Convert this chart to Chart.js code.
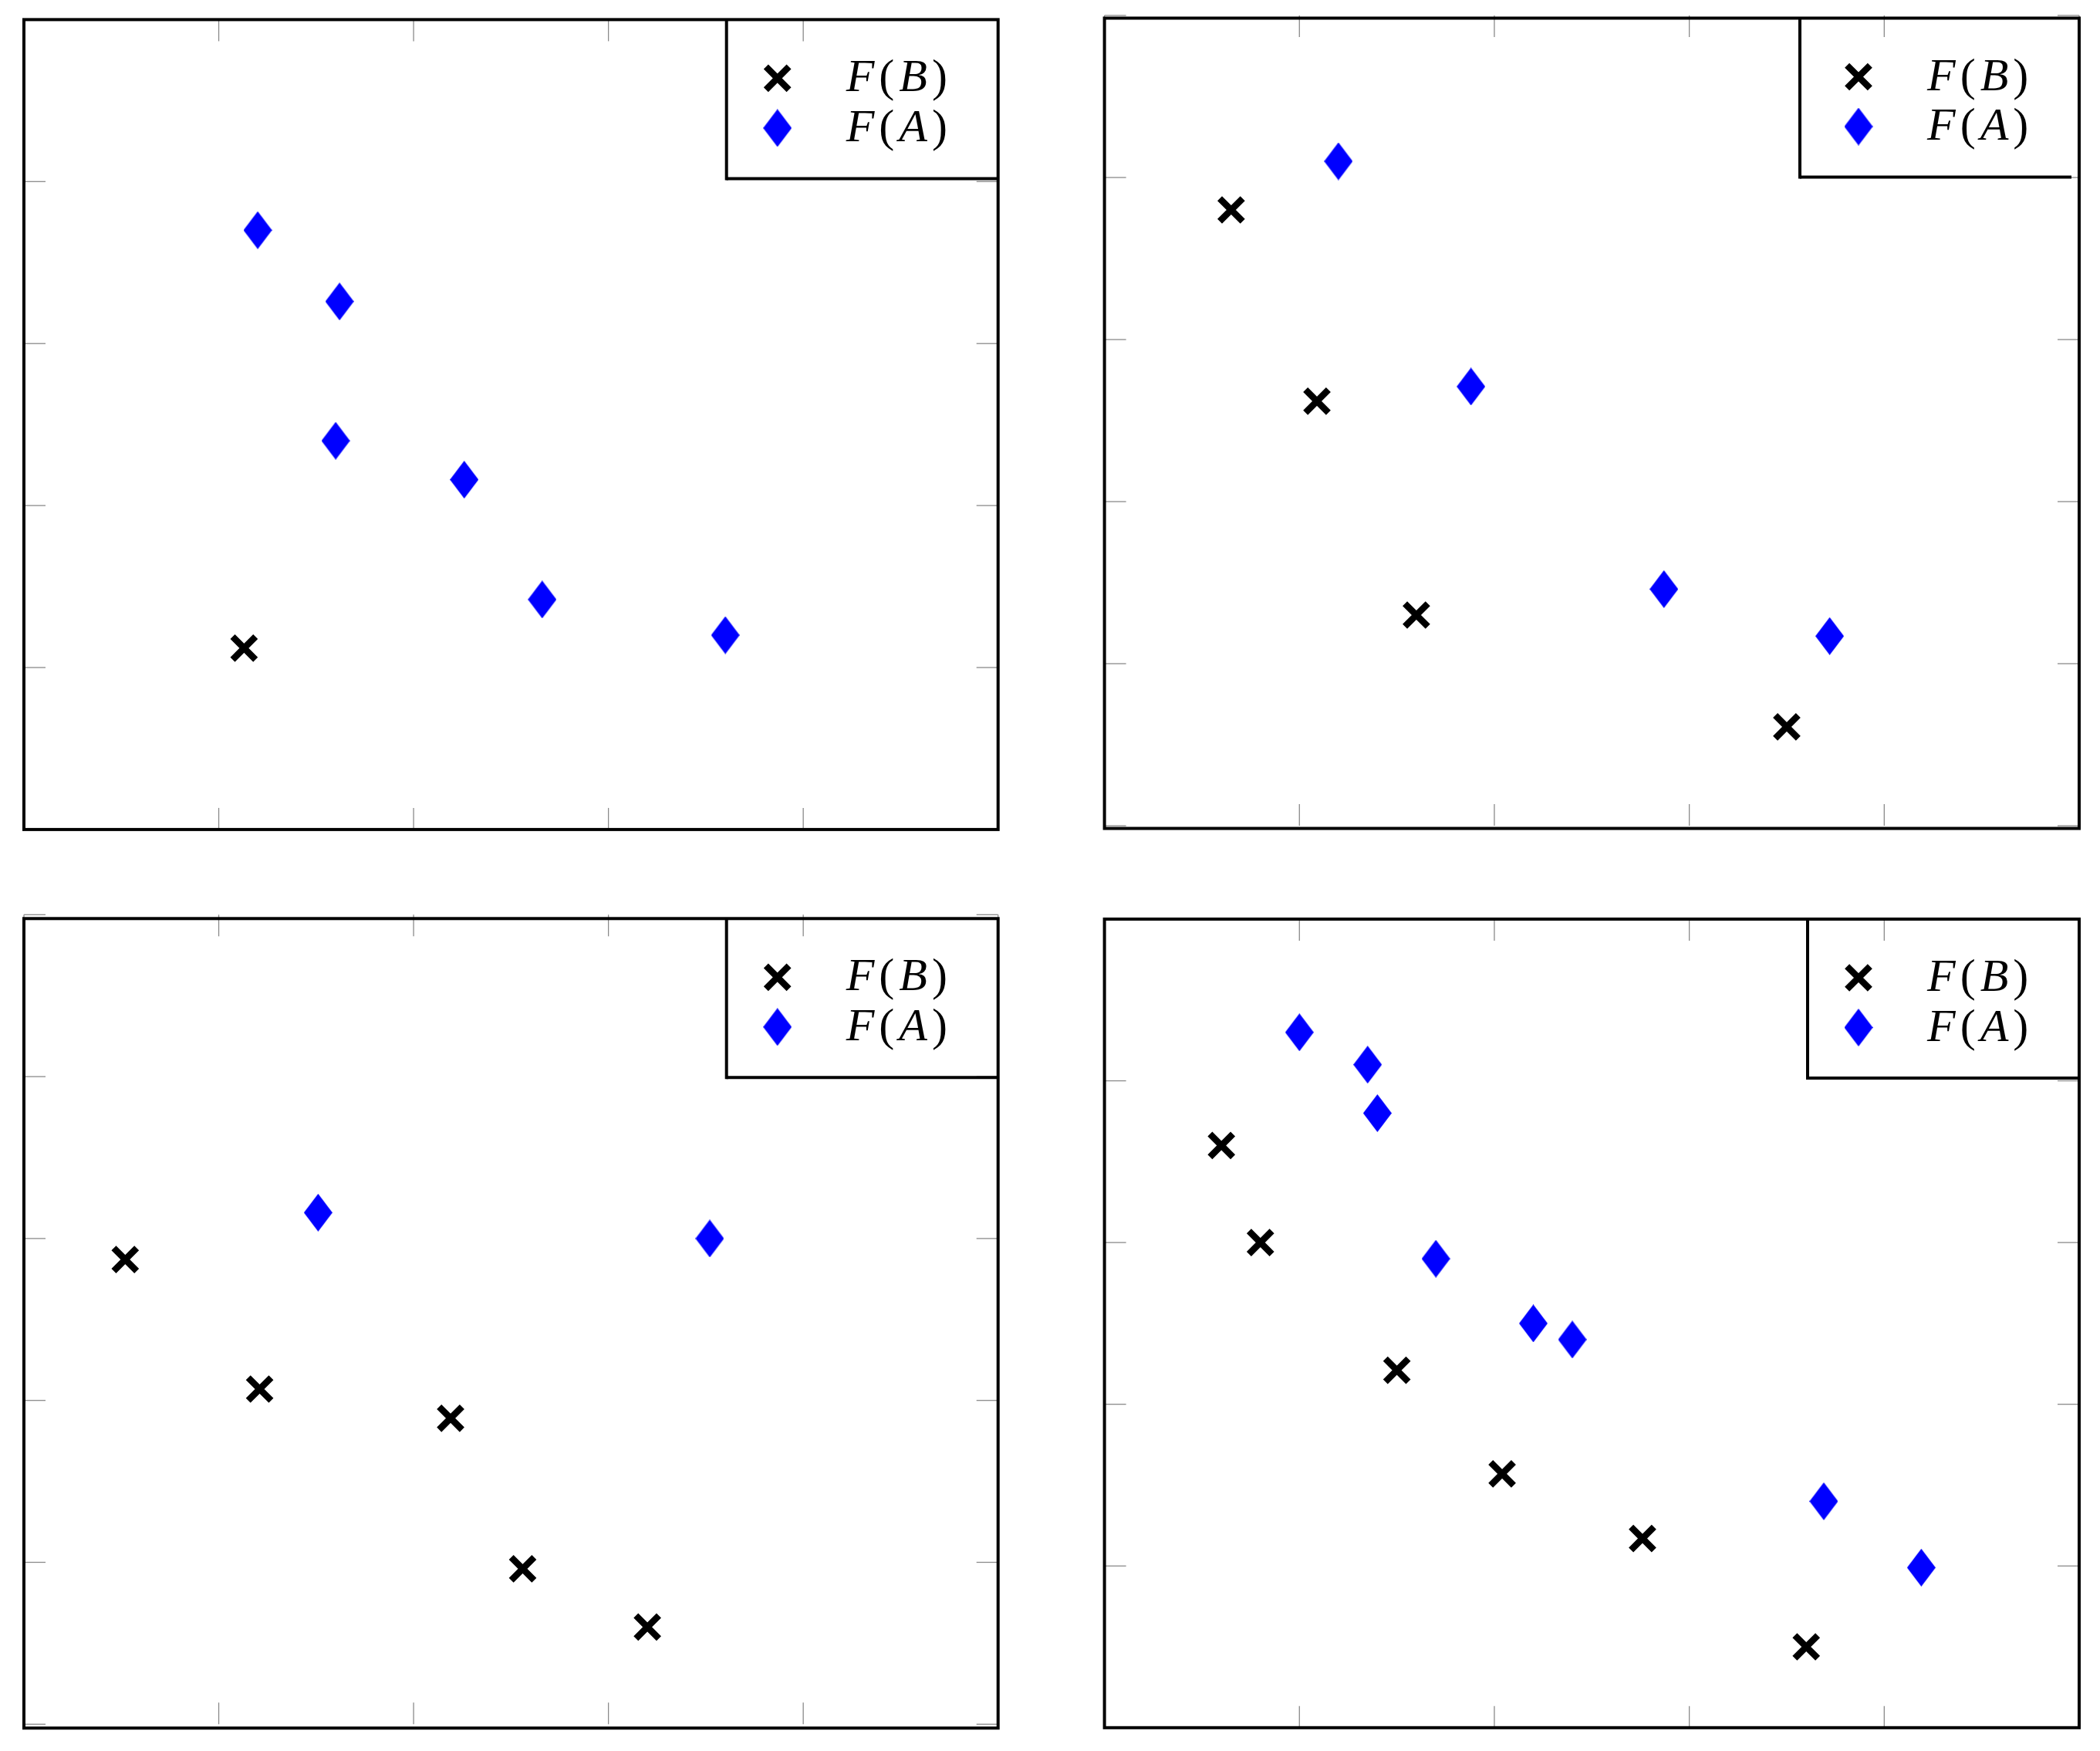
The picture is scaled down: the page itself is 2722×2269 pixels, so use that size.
<!DOCTYPE html>
<html>
<head>
<meta charset="utf-8">
<title>F(A) / F(B) scatter panels</title>
<script src="https://cdn.jsdelivr.net/npm/chart.js@4/dist/chart.umd.min.js"></script>
<style>
    html, body { margin: 0; padding: 0; background: #fff; }
    #page { position: relative; width: 2722px; height: 2269px; overflow: hidden; background: #fff; }
    #page canvas { position: absolute; }
</style>
</head>
<body>
<div id="page"></div>
<script>
// series names and tick values (same for all four panels)
const seriesLabels = ['F(B)', 'F(A)'];
const xTicks = [0, 1, 2, 3, 4, 5];
const yTicks = [0, 1, 2, 3, 4, 5];

// panel 1 (top left)
const p1BX = [1.13];
const p1BY = [1.12];
const p1AX = [1.20, 1.62, 1.60, 2.26, 2.66, 3.60];
const p1AY = [3.70, 3.26, 2.40, 2.16, 1.42, 1.20];

// panel 2 (top right)
const p2BX = [0.65, 1.09, 1.60, 3.50];
const p2BY = [3.80, 2.62, 1.30, 0.61];
const p2AX = [1.20, 1.88, 2.87, 3.72];
const p2AY = [4.10, 2.71, 1.46, 1.17];

// panel 3 (bottom left)
const p3BX = [0.52, 1.21, 2.19, 2.56, 3.20];
const p3BY = [2.87, 2.07, 1.89, 0.96, 0.60];
const p3AX = [1.51, 3.52];
const p3AY = [3.16, 3.00];

// panel 4 (bottom right)
const p4BX = [0.60, 0.80, 1.50, 2.04, 2.76, 3.60];
const p4BY = [3.60, 3.00, 2.21, 1.57, 1.17, 0.50];
const p4AX = [1.00, 1.35, 1.40, 1.70, 2.20, 2.40, 3.69, 4.19];
const p4AY = [4.30, 4.10, 3.80, 2.90, 2.50, 2.40, 1.40, 0.99];

// where each plot area sits on the page
const panelBoxes = [
    { left: 31, top: 25.4, right: 1293.7, bottom: 1074.9, shift: 0, legendInset: 0 },
    { left: 1431.6, top: 20, right: 2695, bottom: 1070, shift: 3.5, legendInset: 10 },
    { left: 31, top: 1185.3, right: 1293.7, bottom: 2234.3, shift: 5, legendInset: 0 },
    { left: 1431.6, top: 1191, right: 2695, bottom: 2238.8, shift: 0, legendInset: 0 }
];

const panelData = [
    [p1BX, p1BY, p1AX, p1AY],
    [p2BX, p2BY, p2AX, p2AY],
    [p3BX, p3BY, p3AX, p3AY],
    [p4BX, p4BY, p4AX, p4AY]
];

function toPoints(xs, ys) {
    return xs.map((x, i) => ({ x: x, y: ys[i] }));
}

// tall diamond marker, like pgfplots "diamond*"
function makeDiamond(w, h, color) {
    const c = document.createElement('canvas');
    c.width = w;
    c.height = h;
    const g = c.getContext('2d');
    g.fillStyle = color;
    g.beginPath();
    g.moveTo(w / 2, 0);
    g.lineTo(w, h / 2);
    g.lineTo(w / 2, h);
    g.lineTo(0, h / 2);
    g.closePath();
    g.fill();
    return c;
}
const diamondMark = makeDiamond(37, 49, '#0000ff');

function strokeLine(ctx, x1, y1, x2, y2) {
    ctx.beginPath();
    ctx.moveTo(x1, y1);
    ctx.lineTo(x2, y2);
    ctx.stroke();
}

// letters italic, brackets upright
function drawMathLabel(ctx, text, x, y) {
    ctx.fillStyle = '#000';
    ctx.textAlign = 'left';
    ctx.textBaseline = 'alphabetic';
    for (const ch of text) {
        ctx.font = (/[A-Za-z]/.test(ch) ? 'italic ' : '') + '60px "Liberation Serif", "DejaVu Serif", serif';
        ctx.fillText(ch, x, y);
        x += ctx.measureText(ch).width + 6;
    }
}

const pgfFrame = {
    id: 'pgfFrame',
    beforeDatasetsDraw(chart) {
        const ctx = chart.ctx;
        const ca = chart.chartArea;
        const xs = chart.scales.x;
        const ys = chart.scales.y;
        const tickLen = 28;
        ctx.save();
        ctx.strokeStyle = '#8a8a8a';
        ctx.lineWidth = 1.3;
        xTicks.forEach(v => {
            const px = xs.getPixelForValue(v);
            strokeLine(ctx, px, ca.bottom, px, ca.bottom - tickLen);
            strokeLine(ctx, px, ca.top, px, ca.top + tickLen);
        });
        yTicks.forEach(v => {
            const py = ys.getPixelForValue(v);
            strokeLine(ctx, ca.left, py, ca.left + tickLen, py);
            strokeLine(ctx, ca.right, py, ca.right - tickLen, py);
        });
        ctx.restore();
    },
    afterDatasetsDraw(chart, args, opts) {
        const ctx = chart.ctx;
        const ca = chart.chartArea;
        const top = ca.top + opts.shift;

        ctx.save();
        ctx.strokeStyle = '#000';
        ctx.lineWidth = 4;
        ctx.strokeRect(ca.left, top, ca.right - ca.left, ca.bottom - ca.top);

        // legend box: only left and bottom edges show
        const boxRight = ca.right - opts.legendInset;
        const boxLeft = boxRight - 352;
        const boxBottom = top + 206;
        strokeLine(ctx, boxLeft, top, boxLeft, boxBottom + 2);
        strokeLine(ctx, boxLeft, boxBottom, boxRight, boxBottom);

        chart.data.datasets.forEach((ds, i) => {
            const el = chart.getDatasetMeta(i).data[0];
            const o = el.options;
            const cy = top + 76 + i * 64.5;
            ctx.save();
            ctx.strokeStyle = o.borderColor;
            ctx.fillStyle = o.backgroundColor;
            ctx.lineWidth = o.borderWidth;
            Chart.helpers.drawPoint(ctx, {
                pointStyle: o.pointStyle,
                radius: o.radius,
                rotation: 0,
                borderWidth: o.borderWidth
            }, ca.right - 286, cy);
            ctx.restore();
            drawMathLabel(ctx, ds.label, ca.right - 197, cy + 17);
        });
        ctx.restore();
    }
};

const page = document.getElementById('page');

panelBoxes.forEach((box, k) => {
    const cl = Math.floor(box.left - 40);
    const ct = Math.floor(box.top - 40);
    const cw = Math.ceil(box.right + 40) - cl;
    const ch = Math.ceil(box.bottom + 40) - ct;

    const canvas = document.createElement('canvas');
    canvas.width = cw;
    canvas.height = ch;
    canvas.style.left = cl + 'px';
    canvas.style.top = ct + 'px';
    canvas.style.width = cw + 'px';
    canvas.style.height = ch + 'px';
    page.appendChild(canvas);

    const [bx, by, ax, ay] = panelData[k];

    new Chart(canvas, {
        type: 'scatter',
        data: {
            datasets: [
                {
                    label: seriesLabels[0],
                    data: toPoints(bx, by),
                    pointStyle: 'crossRot',
                    pointRadius: 21,
                    pointHoverRadius: 21,
                    borderColor: '#000',
                    backgroundColor: '#000',
                    pointBorderColor: '#000',
                    pointBackgroundColor: '#000',
                    borderWidth: 8.5,
                    pointBorderWidth: 8.5,
                    pointHoverBorderWidth: 8.5
                },
                {
                    label: seriesLabels[1],
                    data: toPoints(ax, ay),
                    pointStyle: diamondMark,
                    pointRadius: 25,
                    pointHoverRadius: 25,
                    borderColor: '#0000ff',
                    backgroundColor: '#0000ff',
                    pointBorderColor: '#0000ff',
                    pointBackgroundColor: '#0000ff',
                    pointBorderWidth: 0
                }
            ]
        },
        options: {
            responsive: false,
            animation: false,
            devicePixelRatio: 1,
            events: [],
            layout: {
                padding: {
                    left: box.left - cl,
                    top: box.top - ct,
                    right: cl + cw - box.right,
                    bottom: ct + ch - box.bottom
                }
            },
            scales: {
                x: { type: 'linear', display: false, min: 0, max: 5 },
                y: { type: 'linear', display: false, min: 0, max: 5 }
            },
            plugins: {
                legend: { display: false },
                tooltip: { enabled: false },
                pgfFrame: { shift: box.shift, legendInset: box.legendInset }
            }
        },
        plugins: [pgfFrame]
    });
});
</script>
</body>
</html>
